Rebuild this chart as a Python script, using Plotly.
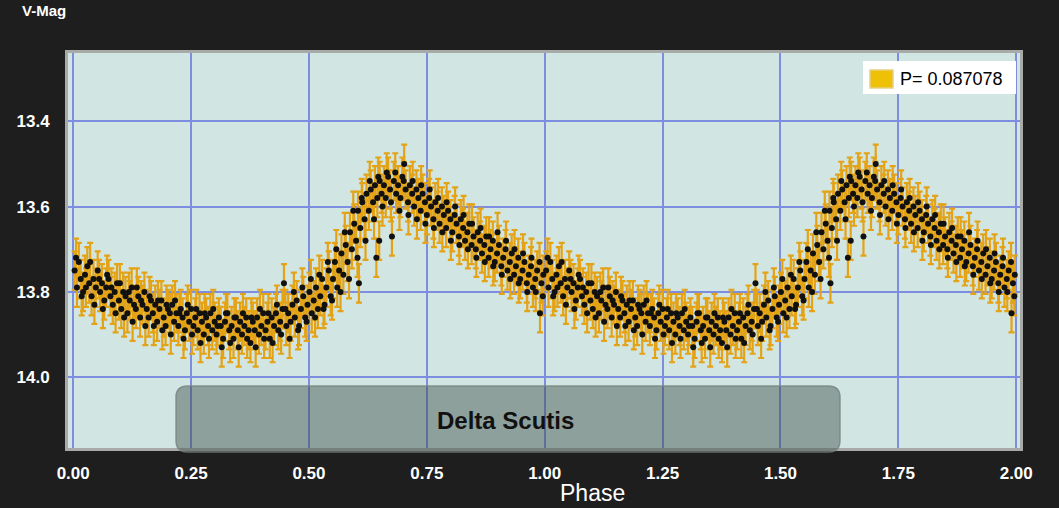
import plotly.graph_objects as go

# Phase-folded photometry (one cycle), V magnitudes
phase = [
    0.003, 0.008, 0.012, 0.016, 0.021, 0.025, 0.030, 0.034, 0.039, 0.043,
    0.048, 0.052, 0.057, 0.061, 0.066, 0.070, 0.075, 0.079, 0.084, 0.088,
    0.093, 0.097, 0.102, 0.106, 0.111, 0.115, 0.120, 0.124, 0.129, 0.133,
    0.138, 0.142, 0.147, 0.151, 0.156, 0.160, 0.165, 0.169, 0.174, 0.178,
    0.183, 0.187, 0.192, 0.196, 0.201, 0.205, 0.210, 0.214, 0.219, 0.223,
    0.228, 0.232, 0.237, 0.241, 0.246, 0.250, 0.255, 0.259, 0.264, 0.268,
    0.273, 0.277, 0.282, 0.286, 0.291, 0.295, 0.300, 0.304, 0.309, 0.313,
    0.318, 0.322, 0.327, 0.331, 0.336, 0.340, 0.345, 0.349, 0.354, 0.358,
    0.363, 0.367, 0.372, 0.376, 0.381, 0.385, 0.390, 0.394, 0.399, 0.403,
    0.408, 0.412, 0.417, 0.421, 0.426, 0.430, 0.435, 0.439, 0.444, 0.447,
    0.452, 0.456, 0.461, 0.465, 0.470, 0.474, 0.479, 0.483, 0.488, 0.492,
    0.497, 0.501, 0.506, 0.510, 0.515, 0.519, 0.524, 0.528, 0.533, 0.537,
    0.542, 0.546, 0.551, 0.555, 0.560, 0.564, 0.569, 0.573, 0.578, 0.582,
    0.587, 0.591, 0.596, 0.600, 0.604, 0.606, 0.609, 0.613, 0.618, 0.622,
    0.627, 0.631, 0.636, 0.640, 0.643, 0.645, 0.649, 0.650, 0.654, 0.659,
    0.663, 0.668, 0.672, 0.676, 0.680, 0.685, 0.689, 0.694, 0.698, 0.702,
    0.705, 0.710, 0.714, 0.719, 0.723, 0.728, 0.732, 0.737, 0.741, 0.746,
    0.750, 0.755, 0.759, 0.764, 0.768, 0.773, 0.777, 0.782, 0.786, 0.791,
    0.795, 0.800, 0.804, 0.809, 0.813, 0.818, 0.822, 0.827, 0.831, 0.836,
    0.840, 0.845, 0.849, 0.854, 0.858, 0.863, 0.867, 0.872, 0.876, 0.881,
    0.885, 0.890, 0.894, 0.899, 0.903, 0.908, 0.912, 0.917, 0.921, 0.926,
    0.930, 0.935, 0.939, 0.944, 0.948, 0.953, 0.957, 0.962, 0.966, 0.971,
    0.975, 0.980, 0.984, 0.990, 0.993, 0.997,
    0.006, 0.018, 0.027, 0.036, 0.045, 0.055, 0.063, 0.072, 0.081, 0.090,
    0.099, 0.108, 0.118, 0.126, 0.135, 0.144, 0.153, 0.162, 0.171, 0.180,
    0.189, 0.198, 0.207, 0.216, 0.225, 0.234, 0.243, 0.252, 0.261, 0.270,
    0.279, 0.288, 0.297, 0.306, 0.315, 0.324, 0.333, 0.342, 0.351, 0.360,
    0.369, 0.378, 0.387, 0.396, 0.405, 0.414, 0.423, 0.432, 0.441, 0.450,
    0.459, 0.468, 0.477, 0.486, 0.495, 0.504, 0.513, 0.522, 0.531, 0.540,
    0.549, 0.558, 0.567, 0.576, 0.585, 0.594, 0.603, 0.612, 0.620, 0.629,
    0.638, 0.647, 0.656, 0.665, 0.674, 0.683, 0.692, 0.701, 0.711, 0.720,
    0.729, 0.738, 0.747, 0.756, 0.765, 0.774, 0.783, 0.792, 0.801, 0.810,
    0.819, 0.828, 0.837, 0.846, 0.855, 0.864, 0.873, 0.882, 0.891, 0.900,
    0.909, 0.918, 0.927, 0.936, 0.945, 0.954, 0.963, 0.972, 0.981, 0.989,
    0.996,
]
vmag = [
    13.75, 13.79, 13.73, 13.77, 13.80, 13.76, 13.74, 13.78, 13.81, 13.77,
    13.79, 13.75, 13.80, 13.78, 13.82, 13.79, 13.77, 13.81, 13.83, 13.80,
    13.78, 13.82, 13.84, 13.80, 13.81, 13.85, 13.82, 13.79, 13.83, 13.84,
    13.81, 13.86, 13.83, 13.80, 13.84, 13.86, 13.82, 13.85, 13.83, 13.87,
    13.84, 13.82, 13.86, 13.88, 13.84, 13.85, 13.83, 13.87, 13.85, 13.88,
    13.84, 13.86, 13.89, 13.85, 13.87, 13.84, 13.88, 13.86, 13.89, 13.85,
    13.87, 13.90, 13.86, 13.88, 13.85, 13.89, 13.87, 13.90, 13.86, 13.88,
    13.91, 13.87, 13.85, 13.89, 13.88, 13.91, 13.86, 13.89, 13.87, 13.90,
    13.88, 13.86, 13.89, 13.92, 13.87, 13.89, 13.86, 13.90, 13.88, 13.85,
    13.89, 13.87, 13.91, 13.86, 13.88, 13.85, 13.89, 13.87, 13.84, 13.78,
    13.88, 13.85, 13.87, 13.83, 13.86, 13.82, 13.88, 13.84, 13.81, 13.86,
    13.83, 13.80, 13.85, 13.82, 13.79, 13.84, 13.81, 13.77, 13.83, 13.79,
    13.75, 13.81, 13.77, 13.73, 13.79, 13.75, 13.71, 13.76, 13.69, 13.73,
    13.66, 13.70, 13.64, 13.68, 13.61, 13.78, 13.65, 13.59, 13.63, 13.57,
    13.61, 13.56, 13.59, 13.55, 13.72, 13.58, 13.68, 13.54, 13.57, 13.55,
    13.58, 13.53, 13.56, 13.67, 13.54, 13.57, 13.55, 13.58, 13.53, 13.50,
    13.56, 13.59, 13.55, 13.57, 13.60, 13.56, 13.58, 13.61, 13.57, 13.59,
    13.62, 13.58, 13.60, 13.63, 13.59, 13.61, 13.64, 13.60, 13.62, 13.65,
    13.61, 13.63, 13.66, 13.62, 13.64, 13.67, 13.63, 13.65, 13.68, 13.66,
    13.64, 13.69, 13.67, 13.70, 13.66, 13.68, 13.71, 13.69, 13.67, 13.72,
    13.70, 13.68, 13.73, 13.71, 13.69, 13.74, 13.72, 13.70, 13.75, 13.73,
    13.71, 13.76, 13.74, 13.72, 13.77, 13.75, 13.73, 13.78, 13.76, 13.74,
    13.79, 13.77, 13.75, 13.85, 13.78, 13.76,
    13.72, 13.81, 13.79, 13.73, 13.83, 13.77, 13.84, 13.76, 13.79, 13.85,
    13.78, 13.86, 13.80, 13.87, 13.79, 13.82, 13.88, 13.81, 13.88, 13.82,
    13.89, 13.83, 13.90, 13.82, 13.85, 13.91, 13.83, 13.90, 13.84, 13.92,
    13.85, 13.91, 13.84, 13.88, 13.93, 13.85, 13.92, 13.86, 13.93, 13.85,
    13.91, 13.86, 13.93, 13.84, 13.91, 13.85, 13.92, 13.83, 13.90, 13.84,
    13.91, 13.80, 13.89, 13.79, 13.87, 13.77, 13.86, 13.76, 13.84, 13.73,
    13.82, 13.70, 13.80, 13.66, 13.77, 13.61, 13.72, 13.58, 13.68, 13.54,
    13.63, 13.53, 13.60, 13.52, 13.59, 13.52, 13.61, 13.54, 13.62, 13.54,
    13.63, 13.55, 13.64, 13.56, 13.65, 13.58, 13.66, 13.59, 13.68, 13.60,
    13.69, 13.62, 13.70, 13.64, 13.72, 13.65, 13.73, 13.67, 13.74, 13.66,
    13.76, 13.68, 13.77, 13.70, 13.78, 13.71, 13.80, 13.72, 13.80, 13.73,
    13.81,
]
mag_error = 0.045
period_label = "P= 0.087078"
caption = "Delta Scutis"
x_title = "Phase"
y_title = "V-Mag"
x_ticks = [0.0, 0.25, 0.5, 0.75, 1.0, 1.25, 1.5, 1.75, 2.0]
x_tick_text = ["0.00", "0.25", "0.50", "0.75", "1.00", "1.25", "1.50", "1.75", "2.00"]
y_ticks = [13.4, 13.6, 13.8, 14.0]
y_tick_text = ["13.4", "13.6", "13.8", "14.0"]

# plotted over two cycles
phase_all = phase + [p + 1 for p in phase]
vmag_all = vmag + vmag

ORANGE = "#e4a316"
W, H = 1059, 508
ML, MR, MT, MB = 68, 39, 53, 60
PW, PH = W - ML - MR, H - MT - MB


def px(x):
    return (x - ML) / PW


def py(y):
    return (H - MB - y) / PH


fig = go.Figure()
fig.add_trace(go.Scatter(
    x=phase_all, y=vmag_all, mode="markers",
    marker=dict(color="#111111", size=6, line=dict(width=0)),
    error_y=dict(type="constant", value=mag_error, color=ORANGE, thickness=2.2, width=3),
    showlegend=False, hoverinfo="skip",
))

fig.update_layout(
    width=W, height=H,
    paper_bgcolor="#1e1e1e",
    plot_bgcolor="#d1e6e2",
    margin=dict(l=ML, r=MR, t=MT, b=MB),
    font=dict(family="Liberation Sans, Arial, sans-serif", color="white"),
    showlegend=False,
    xaxis=dict(
        range=[-0.011, 2.008], tickvals=x_ticks, ticktext=x_tick_text,
        showgrid=True, gridcolor="#7d8de0", gridwidth=1.5,
        zeroline=False, showline=True, mirror=True, linecolor="#a8aaa8", linewidth=3,
        ticks="outside", ticklen=8, tickcolor="rgba(0,0,0,0)",
        tickfont=dict(size=17, color="white", weight="bold"),
    ),
    yaxis=dict(
        range=[14.166, 13.24], tickvals=y_ticks, ticktext=y_tick_text,
        showgrid=True, gridcolor="#7d8de0", gridwidth=2,
        zeroline=False, showline=True, mirror=True, linecolor="#a8aaa8", linewidth=3,
        ticks="outside", ticklen=12, tickcolor="rgba(0,0,0,0)",
        tickfont=dict(size=17, color="white", weight="bold"),
    ),
)

# axis titles
fig.add_annotation(
    xref="paper", yref="paper", x=px(20), y=py(0), xanchor="left", yanchor="top",
    text=y_title, showarrow=False, font=dict(size=15, color="white", weight="bold"),
)
fig.add_annotation(
    xref="paper", yref="paper", x=px(592), y=py(493), xanchor="center", yanchor="middle",
    text=x_title, showarrow=False, font=dict(size=23, color="white"),
)

# legend box (manual)
fig.add_shape(type="rect", xref="paper", yref="paper",
              x0=px(863), x1=px(1016), y0=py(94), y1=py(61),
              fillcolor="white", line=dict(width=0), layer="above")
fig.add_shape(type="rect", xref="paper", yref="paper",
              x0=px(870), x1=px(893), y0=py(88), y1=py(70),
              fillcolor="#efc106", line=dict(color="#e8cf80", width=1.5), layer="above")
fig.add_annotation(
    xref="paper", yref="paper", x=px(898), y=py(79), xanchor="left", yanchor="middle",
    text=period_label, showarrow=False, font=dict(size=18, color="black"),
)

# rounded caption box
x0, x1 = px(176), px(840)
y0, y1 = py(452), py(386)
r = 0.012
ry = r * PW / PH
path = (
    f"M {x0 + r},{y1} L {x1 - r},{y1} Q {x1},{y1} {x1},{y1 - ry} "
    f"L {x1},{y0 + ry} Q {x1},{y0} {x1 - r},{y0} L {x0 + r},{y0} "
    f"Q {x0},{y0} {x0},{y0 + ry} L {x0},{y1 - ry} Q {x0},{y1} {x0 + r},{y1} Z"
)
fig.add_shape(type="path", xref="paper", yref="paper", path=path,
              fillcolor="rgba(60,75,72,0.45)", line=dict(color="rgba(120,130,128,0.8)", width=1.5),
              layer="above")
fig.add_annotation(
    xref="paper", yref="paper", x=px(505), y=py(436),
    text="<b>" + caption + "</b>", showarrow=False,
    font=dict(size=24, color="#111111"),
)

fig.write_html("out.html")
